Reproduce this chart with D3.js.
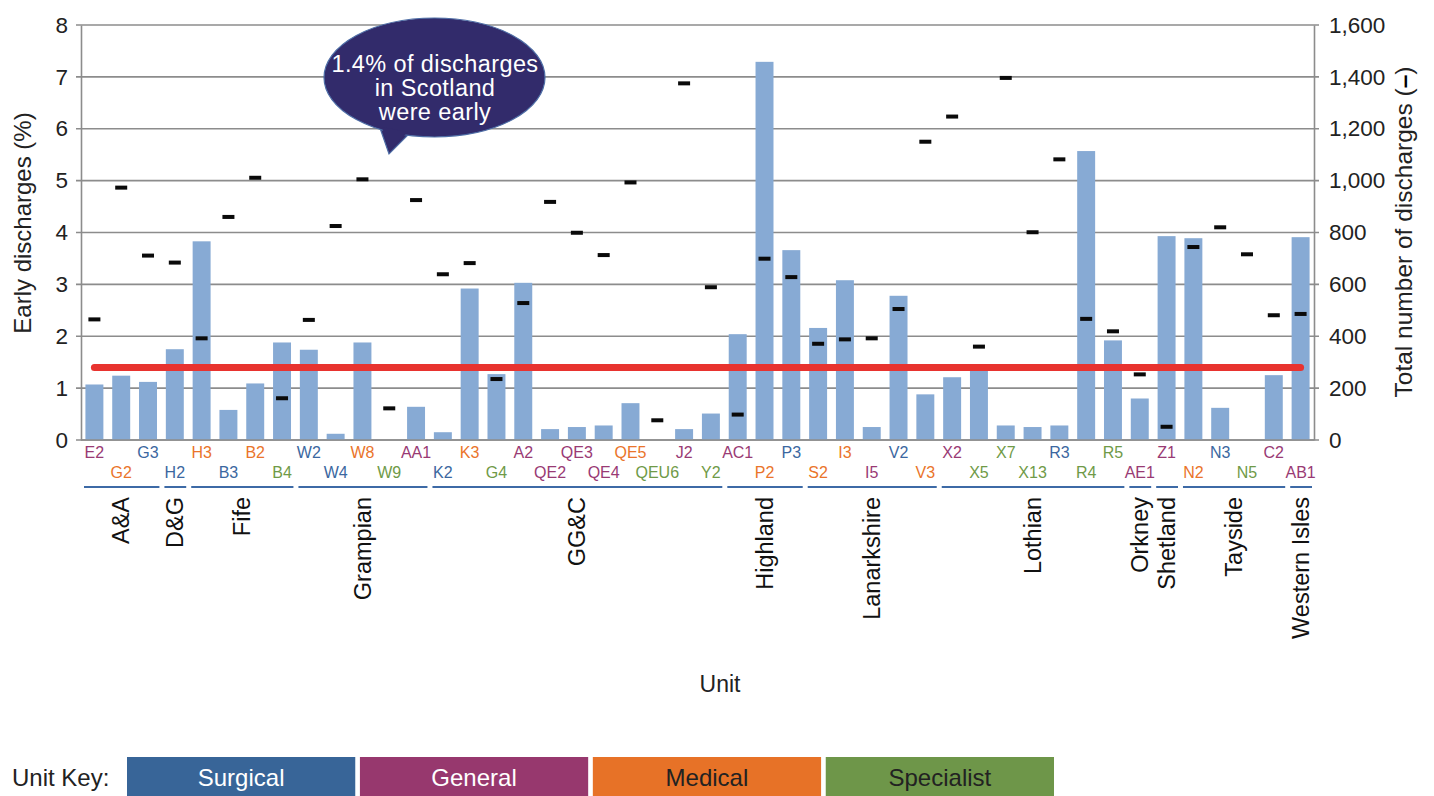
<!DOCTYPE html>
<html>
<head>
<meta charset="utf-8">
<script src="https://cdn.jsdelivr.net/npm/d3@7"></script>
<style>
  body { margin: 0; background: #fff; }
  svg text { font-family: "Liberation Sans", Arial, Helvetica, sans-serif; }
</style>
</head>
<body>
<div id="chart"></div>
<script>
// units, in chart order
var units = ["E2","G2","G3","H2","H3","B3","B2","B4","W2","W4","W8","W9","AA1","K2","K3","G4",
  "A2","QE2","QE3","QE4","QE5","QEU6","J2","Y2","AC1","P2","P3","S2","I3","I5","V2","V3",
  "X2","X5","X7","X13","R3","R4","R5","AE1","Z1","N2","N3","N5","C2","AB1"];

// unit type: S surgical, G general, M medical, P specialist
var unitTypes = ["G","M","S","S","M","S","M","P","S","S","M","P","G","S","M","P",
  "G","G","G","G","M","P","G","P","G","M","S","M","M","G","S","M",
  "G","P","P","P","S","P","P","G","G","M","S","P","G","G"];

// early discharges (%)
var earlyPct = [1.07,1.24,1.12,1.75,3.83,0.58,1.09,1.88,1.74,0.12,1.88,0,0.64,0.15,2.92,1.27,
  3.03,0.21,0.25,0.28,0.71,0,0.21,0.51,2.04,7.29,3.66,2.16,3.08,0.25,2.78,0.88,
  1.21,1.37,0.28,0.25,0.28,5.57,1.92,0.80,3.93,3.89,0.62,0,1.25,3.91];

// total number of discharges
var totalDischarges = [465,973,711,684,392,860,1011,161,463,825,1005,122,925,639,682,235,
  528,918,799,713,993,76,1375,589,98,699,628,371,388,392,505,1150,
  1247,360,1396,801,1082,467,419,253,51,744,820,716,481,486];

// health boards and the number of units in each
var boards = ["A&A","D&G","Fife","Grampian","GG&C","Highland","Lanarkshire","Lothian","Orkney","Shetland","Tayside","Western Isles"];
var boardSizes = [3,1,4,5,11,3,5,7,1,1,4,1];

var scotlandPct = 1.4;

var leftTicks = [0,1,2,3,4,5,6,7,8];
var rightTicks = [0,200,400,600,800,1000,1200,1400,1600];

var keyNames = ["Surgical","General","Medical","Specialist"];
var keyCodes = ["S","G","M","P"];

var typeColor = {S: "#3b67a0", G: "#993a74", M: "#ea742a", P: "#6f9a47"};
var keyFill = {S: "#386598", G: "#97386e", M: "#e77227", P: "#6e9649"};
var keyText = {S: "#ffffff", G: "#ffffff", M: "#222222", P: "#222222"};

var W = 1434, H = 796;
var plotL = 81, plotR = 1314, plotT = 25, plotB = 440;

var svg = d3.select("#chart").append("svg")
    .attr("width", W)
    .attr("height", H);

var x = d3.scaleBand().domain(units).range([plotL, plotR])
    .paddingInner(0.33).paddingOuter(0.165);
var step = x.step();
var y = d3.scaleLinear().domain([0, 8]).range([plotB, plotT]);
var y2 = d3.scaleLinear().domain([0, 1600]).range([plotB, plotT]);

// gridlines (with outward ticks on both sides)
svg.append("g").selectAll("line")
    .data(leftTicks)
  .enter().append("line")
    .attr("x1", plotL - 5).attr("x2", plotR + 5)
    .attr("y1", function(d) { return y(d); })
    .attr("y2", function(d) { return y(d); })
    .attr("stroke", "#8c8c8c")
    .attr("stroke-width", 1.6);

// left axis
var yAxis = d3.axisLeft(y).tickValues(leftTicks).tickSize(0).tickPadding(13);
var gl = svg.append("g").attr("transform", "translate(" + plotL + ",0)").call(yAxis);
gl.select(".domain").attr("stroke", "#8c8c8c").attr("stroke-width", 1.6);
gl.selectAll("text").attr("font-size", 22.5).attr("fill", "#222")
    .attr("font-family", "Liberation Sans, Arial, sans-serif");

// right axis
var yAxis2 = d3.axisRight(y2).tickValues(rightTicks).tickSize(0).tickPadding(15)
    .tickFormat(d3.format(","));
var gr = svg.append("g").attr("transform", "translate(" + plotR + ",0)").call(yAxis2);
gr.select(".domain").attr("stroke", "#8c8c8c").attr("stroke-width", 1.6);
gr.selectAll("text").attr("font-size", 22.5).attr("fill", "#222")
    .attr("font-family", "Liberation Sans, Arial, sans-serif");

// bars
svg.append("g").selectAll("rect")
    .data(units)
  .enter().append("rect")
    .attr("x", function(d) { return x(d); })
    .attr("width", x.bandwidth())
    .attr("y", function(d, i) { return y(earlyPct[i]); })
    .attr("height", function(d, i) { return plotB - y(earlyPct[i]); })
    .attr("fill", "#87aad4");

// bottom axis line
svg.append("line")
    .attr("x1", plotL).attr("x2", plotR)
    .attr("y1", plotB).attr("y2", plotB)
    .attr("stroke", "#8c8c8c").attr("stroke-width", 1.6);

// Scotland average
svg.append("line")
    .attr("x1", x(units[0]) + x.bandwidth() / 2)
    .attr("x2", x(units[units.length - 1]) + x.bandwidth() / 2)
    .attr("y1", y(scotlandPct)).attr("y2", y(scotlandPct))
    .attr("stroke", "#e8332f")
    .attr("stroke-width", 7)
    .attr("stroke-linecap", "round");

// total discharge markers
svg.append("g").selectAll("rect")
    .data(units)
  .enter().append("rect")
    .attr("x", function(d) { return x(d) + x.bandwidth() / 2 - 6; })
    .attr("width", 12)
    .attr("y", function(d, i) { return y2(totalDischarges[i]) - 2; })
    .attr("height", 4)
    .attr("fill", "#0a0a0a");

// unit labels, alternating rows
svg.append("g").selectAll("text")
    .data(units)
  .enter().append("text")
    .attr("x", function(d) { return x(d) + x.bandwidth() / 2; })
    .attr("y", function(d, i) { return i % 2 === 0 ? 458 : 478; })
    .attr("text-anchor", "middle")
    .attr("font-size", 16)
    .attr("fill", function(d, i) { return typeColor[unitTypes[i]]; })
    .text(function(d) { return d; });

// board brackets and names
var start = 0;
boards.forEach(function(b, k) {
  var x0 = plotL + step * start, x1 = plotL + step * (start + boardSizes[k]);
  svg.append("line")
    .attr("x1", x0 + 3).attr("x2", x1 - 2)
    .attr("y1", 487).attr("y2", 487)
    .attr("stroke", "#3d6aa6").attr("stroke-width", 2);
  svg.append("text")
    .attr("transform", "translate(" + ((x0 + x1) / 2) + ",497) rotate(-90)")
    .attr("text-anchor", "end")
    .attr("dy", "0.35em")
    .attr("font-size", 23.5)
    .attr("fill", "#111")
    .text(b);
  start += boardSizes[k];
});

// axis titles
svg.append("text")
    .attr("transform", "translate(31,223) rotate(-90)")
    .attr("text-anchor", "middle")
    .attr("font-size", 24).attr("fill", "#222")
    .text("Early discharges (%)");

var rt = svg.append("text")
    .attr("transform", "translate(1412,232) rotate(-90)")
    .attr("text-anchor", "middle")
    .attr("font-size", 24.5).attr("fill", "#222");
rt.append("tspan").text("Total number of discharges (");
rt.append("tspan").attr("font-weight", "bold").attr("fill", "#000").text("\u2013");
rt.append("tspan").text(")");

svg.append("text")
    .attr("x", 720).attr("y", 692)
    .attr("text-anchor", "middle")
    .attr("font-size", 23).attr("fill", "#222")
    .text("Unit");

// speech bubble
var bubble = svg.append("g");
var tail = [[380, 128], [389, 154], [410, 133]];
bubble.append("path")
    .attr("d", d3.line()(tail) + "Z")
    .attr("fill", "#322b6b").attr("stroke", "#4e6ea6").attr("stroke-width", 1.2);
bubble.append("ellipse")
    .attr("cx", 434.5).attr("cy", 77.5).attr("rx", 110.5).attr("ry", 59.5)
    .attr("fill", "#322b6b").attr("stroke", "#4e6ea6").attr("stroke-width", 1.2);
bubble.append("path")
    .attr("d", d3.line()([[382, 127], [389, 150], [408, 132]]) + "Z")
    .attr("fill", "#322b6b");
["1.4% of discharges", "in Scotland", "were early"].forEach(function(t, i) {
  bubble.append("text")
    .attr("x", 435).attr("y", 72 + i * 24)
    .attr("text-anchor", "middle")
    .attr("font-size", 23.5)
    .attr("letter-spacing", 0.4)
    .attr("fill", "#fff")
    .text(t);
});

// unit key
svg.append("text")
    .attr("x", 12).attr("y", 786)
    .attr("font-size", 24).attr("fill", "#222")
    .text("Unit Key:");
var kx = d3.scaleBand().domain(keyCodes).range([127, 1054]).paddingInner(0.02);
var key = svg.append("g").selectAll("g")
    .data(keyCodes)
  .enter().append("g");
key.append("rect")
    .attr("x", function(d) { return kx(d); })
    .attr("y", 757)
    .attr("width", kx.bandwidth())
    .attr("height", 40)
    .attr("fill", function(d) { return keyFill[d]; });
key.append("text")
    .attr("x", function(d) { return kx(d) + kx.bandwidth() / 2; })
    .attr("y", 786)
    .attr("text-anchor", "middle")
    .attr("font-size", 24)
    .attr("fill", function(d) { return keyText[d]; })
    .text(function(d, i) { return keyNames[i]; });
</script>
</body>
</html>
